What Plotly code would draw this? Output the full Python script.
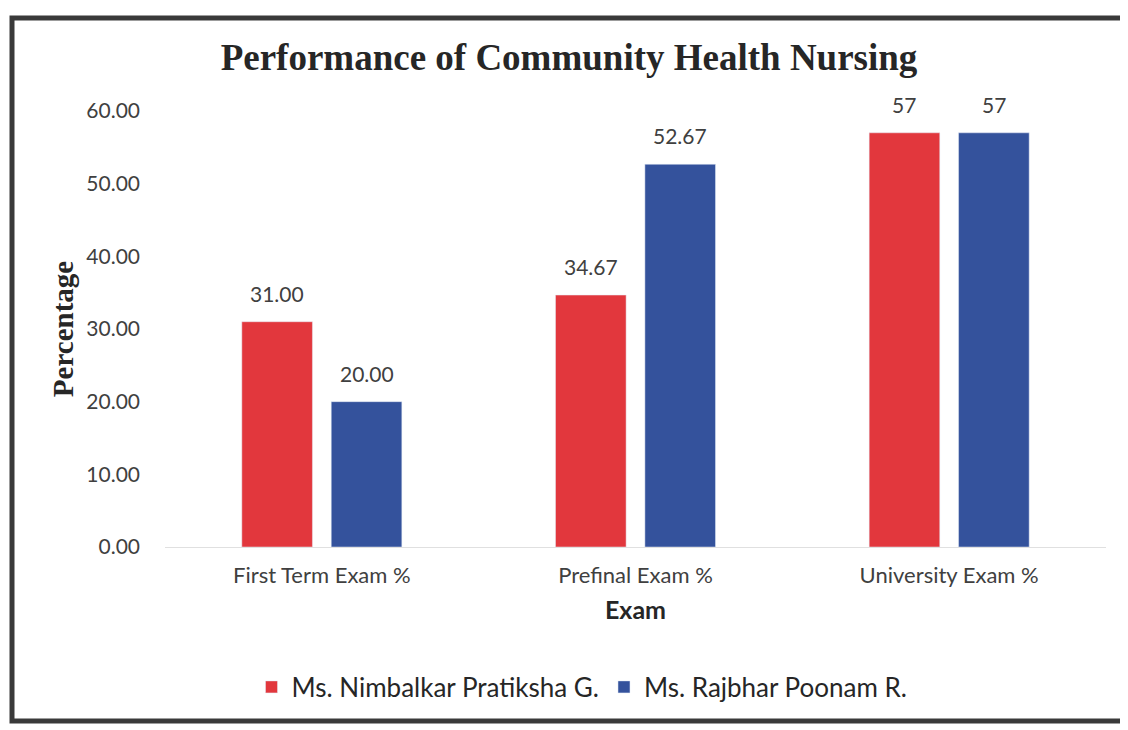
import plotly.graph_objects as go

# chart data
exams = ["First Term Exam %", "Prefinal Exam %", "University Exam %"]
pratiksha = [31.00, 34.67, 57]
poonam = [20.00, 52.67, 57]
pratiksha_labels = ["31.00", "34.67", "57"]
poonam_labels = ["20.00", "52.67", "57"]
y_ticks = [0, 10, 20, 30, 40, 50, 60]

# page has an 8px body margin, so work in page pixels and shift
OFF = 8
W, H = 1128 - OFF, 730 - OFF
L, R, T, B = 165 - OFF, 22, 111 - OFF, 183
pw, ph = W - L - R, H - T - B
BARGAP, GROUPGAP = 0.43, 0.21

sans = "Lato, 'Open Sans', sans-serif"
serif = "'Liberation Serif', 'Times New Roman', serif"


def px_x(v):
    return (v - OFF - L) / pw


def px_y(v):
    return (H - B - (v - OFF)) / ph


fig = go.Figure()
fig.add_trace(go.Bar(x=exams, y=pratiksha, name="Ms. Nimbalkar Pratiksha G.",
                     marker_color="#E2373D"))
fig.add_trace(go.Bar(x=exams, y=poonam, name="Ms. Rajbhar Poonam R.",
                     marker_color="#34529C"))

# data labels sit well above the bars, Excel style
half = (1 - BARGAP) / 4
for side, vals, labels in ((-1, pratiksha, pratiksha_labels), (1, poonam, poonam_labels)):
    for i, (v, lab) in enumerate(zip(vals, labels)):
        fig.add_annotation(x=i + side * half, y=v, xref="x", yref="y", text=lab,
                           showarrow=False, yanchor="bottom", yshift=14,
                           font=dict(family=sans, size=21, color="#404040"))

# outer frame around the whole chart (scanned border)
fig.add_shape(type="rect", xref="paper", yref="paper",
              x0=px_x(12), x1=px_x(1124), y0=px_y(721), y1=px_y(18),
              line=dict(color="#3a3a3a", width=5))

fig.update_layout(
    width=W, height=H,
    margin=dict(l=L, r=R, t=T, b=B),
    paper_bgcolor="white", plot_bgcolor="white",
    barmode="group", bargap=BARGAP, bargroupgap=GROUPGAP,
    title=dict(text="<b>Performance of Community Health Nursing</b>",
               x=px_x(569), xref="paper", xanchor="center",
               y=1 - (57 - OFF) / H, yanchor="middle",
               font=dict(family=serif, size=37, color="#262626")),
    legend=dict(orientation="h", x=px_x(582), xref="paper", xanchor="center",
                y=px_y(687), yanchor="middle",
                font=dict(family=sans, size=26, color="#262626"),
                itemwidth=30, tracegroupgap=0),
    font=dict(family=sans, color="#404040"),
    showlegend=True,
)
fig.update_xaxes(
    showgrid=False, showline=True, linecolor="#e0e0e0", linewidth=1,
    tickfont=dict(size=22, color="#404040"), ticks="", ticklabelstandoff=9,
    title=dict(text="<b>Exam</b>", font=dict(size=25, color="#262626"), standoff=14),
)
fig.update_yaxes(
    range=[0, 60], tickvals=y_ticks, tickformat=".2f", showgrid=False,
    zeroline=False, showline=False, ticks="", ticklabelstandoff=24,
    tickfont=dict(size=21, color="#404040"),
    title=dict(text="<b>Percentage</b>", font=dict(family=serif, size=29, color="#262626"),
               standoff=4),
)

fig.write_html("out.html")
